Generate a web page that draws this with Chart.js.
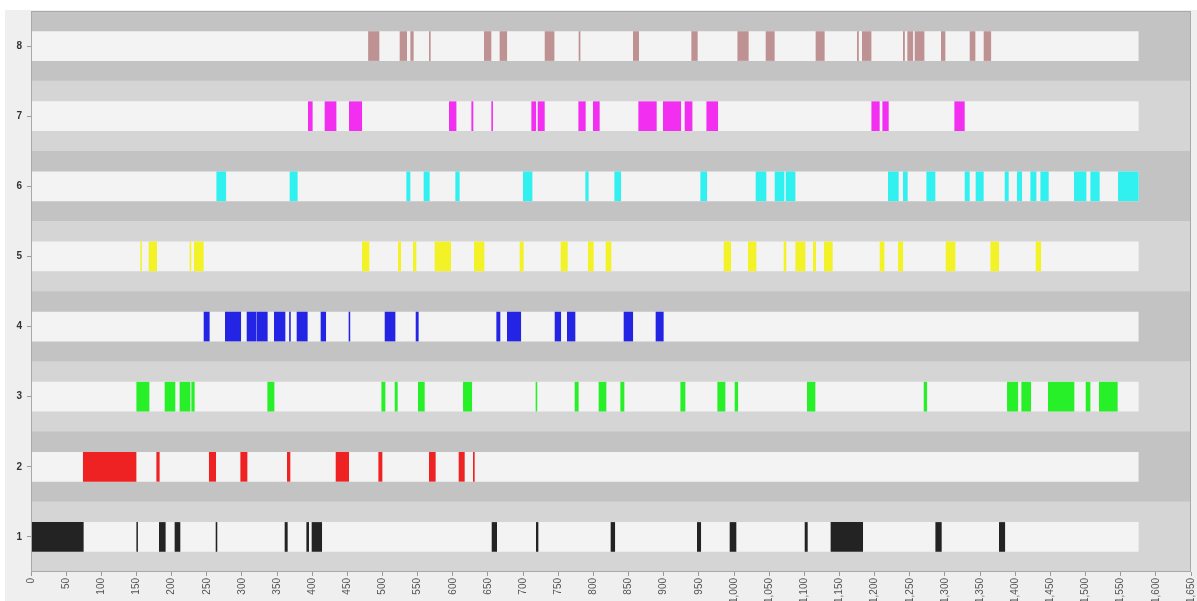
<!DOCTYPE html>
<html>
<head>
<meta charset="utf-8">
<script src="https://cdn.jsdelivr.net/npm/chart.js@4/dist/chart.umd.min.js"></script>
<style>
  html, body { margin: 0; padding: 0; background: #ffffff; }
  #wrap { width: 1197px; height: 601px; }
</style>
</head>
<body>
<div id="wrap"><canvas id="c" width="1197" height="601"></canvas></div>
<script>
// ---- data ----
const categories = ['8', '7', '6', '5', '4', '3', '2', '1'];
const xMin = 0;
const xMax = 1650;
const xStep = 50;
const trackEnd = 1575;

const track1 = [[0,74.4],[150.4,151.6],[182.5,191],[204.8,211.9],[263.2,264.5],[361.3,364.6],[392.2,395],[399.7,413.5],
  [655.8,662.4],[718.8,721.2],[825,830.3],[947.8,952.6],[994.3,1002.8],[1101,1104.3],[1137.9,1183],[1286.9,1294.9],[1377.4,1385.1]];
const track2 = [[74.4,149.4],[178.8,182.5],[253.6,262.7],[298.3,307.3],[364.6,368.4],[433.9,451.9],[494.6,499.3],
  [566.6,575.1],[608.8,616.4],[629.2,630.6]];
const track3 = [[150.4,167.9],[190.6,204.8],[211.9,226.2],[228.6,232.3],[336.7,345.7],[498.9,503.6],[517.8,521.1],
  [550.9,559.5],[615,626.9],[718.3,719.6],[773.8,778.5],[807.9,817.9],[838.8,843.5],[924.2,930.3],[976.8,987.2],
  [1001.4,1005.3],[1104.3,1115.2],[1270.3,1274.1],[1388.8,1403.6],[1409.2,1422],[1447.1,1483.6],[1500.7,1506.4],[1519.6,1545.2]];
const track4 = [[246.1,253.6],[276.4,298.3],[307.3,320.1],[321.5,336.1],[346.1,361.3],[367.7,369],[378.4,393],
  [412.5,419.2],[452.3,453.6],[503.6,517.8],[547.7,550.9],[662.4,667.1],[677.5,696.6],[745.4,753.5],[762.9,773.8],
  [843.5,855.9],[889,899.4]];
const track5 = [[156,157.2],[167.9,178.8],[226.2,227.5],[232.3,245.1],[471.3,480.8],[522.5,525.9],[543.8,547.6],
  [574.7,597],[630.6,644.4],[695.6,700.3],[753.9,762.9],[792.7,799.9],[817.9,825],[985.8,995.3],[1020.3,1031.3],
  [1071.1,1073.9],[1087.8,1101],[1112.8,1116.2],[1128.4,1139.8],[1207.7,1213.4],[1233.7,1240],[1301.6,1314.4],
  [1365.1,1376.5],[1429.6,1436.3]];
const track6 = [[264.2,277],[368.4,378.8],[534.4,539.1],[559,566.6],[604.1,609.2],[700.3,712.7],[789,792.7],
  [830.3,838.8],[952.6,961.2],[1031.3,1045.5],[1058.3,1071.1],[1074,1086.8],[1219.5,1233.7],[1240.8,1246.5],
  [1274.1,1285.9],[1328.6,1334.7],[1344.2,1354.6],[1385.5,1390.2],[1403,1409.2],[1422,1429.6],[1436.3,1447.1],
  [1484.1,1500.7],[1507.4,1519.6],[1546.7,1575]];
const track7 = [[394.5,400.1],[418.2,433.9],[452.8,470.4],[595,604.6],[626.9,628.7],[655.3,656.6],[712.2,717.9],
  [721.2,730.2],[779.1,788.5],[799.9,808.4],[864.4,889.5],[899.4,924.2],[930.3,940.3],[961.2,976.8],
  [1195.9,1206.7],[1211.5,1219.5],[1313.9,1327.6]];
const track8 = [[480,495],[524.9,534.4],[540.1,543.8],[566.6,568],[644.8,654.3],[667.1,676.7],[731.2,744],
  [779.5,781],[856.8,864.4],[939.8,947.8],[1005.3,1020.3],[1045.5,1057.3],[1116.6,1128.4],[1175.4,1177],
  [1182.5,1194.9],[1240.8,1242.5],[1247,1254.2],[1257.5,1270.3],[1294.9,1300.1],[1335.7,1342.8],[1355.6,1365.2]];

const tracks = { '1': track1, '2': track2, '3': track3, '4': track4, '5': track5, '6': track6, '7': track7, '8': track8 };
const trackColors = { '1': '#232323', '2': '#ee2222', '3': '#28f028', '4': '#2424e4', '5': '#f2f226',
  '6': '#30f0f0', '7': '#f22ef0', '8': '#be9292' };
const bandDark = '#c3c3c3';
const bandLight = '#d5d5d5';
const trackBg = '#f3f3f3';

// ---- build datasets ----
const datasets = [];
datasets.push({
  data: categories.map(() => [xMin, xMax]),
  backgroundColor: categories.map((c) => (parseInt(c, 10) % 2 === 0 ? bandDark : bandLight)),
  barPercentage: 1, categoryPercentage: 1, grouped: false, order: 3, borderWidth: 0
});
datasets.push({
  data: categories.map(() => [xMin, trackEnd]),
  backgroundColor: trackBg, barThickness: 29, grouped: false, order: 2, borderWidth: 0
});
categories.forEach((c) => {
  datasets.push({
    data: tracks[c].map((seg) => ({ y: c, x: seg })),
    backgroundColor: trackColors[c], barThickness: 29, grouped: false, order: 1, borderWidth: 0
  });
});

const bgPlugin = {
  id: 'bg',
  beforeDraw(chart) {
    const ctx = chart.ctx;
    ctx.save();
    ctx.fillStyle = '#ffffff';
    ctx.fillRect(0, 0, chart.width, chart.height);
    ctx.fillStyle = '#efefef';
    ctx.fillRect(5, 10, chart.width - 5, chart.height - 10);
    ctx.restore();
  },
  afterDraw(chart) {
    const a = chart.chartArea;
    const ctx = chart.ctx;
    ctx.save();
    ctx.strokeStyle = '#a9a9a9';
    ctx.lineWidth = 1;
    ctx.strokeRect(a.left + 0.5, a.top + 0.5, a.right - a.left - 1, a.bottom - a.top - 1);
    ctx.restore();
  }
};

new Chart(document.getElementById('c'), {
  type: 'bar',
  data: { labels: categories, datasets },
  options: {
    indexAxis: 'y',
    responsive: false,
    animation: false,
    devicePixelRatio: 1,
    layout: { padding: { top: 10, right: 0, left: 0, bottom: 0 } },
    plugins: { legend: { display: false }, tooltip: { enabled: false } },
    scales: {
      x: {
        type: 'linear', min: xMin, max: xMax,
        grid: { drawOnChartArea: false, drawTicks: true, tickLength: 4, color: '#999999' },
        border: { display: false },
        ticks: { stepSize: xStep, autoSkip: false, minRotation: 90, maxRotation: 90, padding: 2,
          color: '#555555', font: { family: 'Liberation Sans, Arial, sans-serif', size: 10 } },
        afterFit(scale) { scale.height = 29; scale.paddingRight = 6; scale.paddingLeft = 0; }
      },
      y: {
        type: 'category',
        grid: { drawOnChartArea: false, drawTicks: true, tickLength: 4, color: '#999999', offset: false },
        border: { display: false },
        ticks: { padding: 5, color: '#333333', font: { family: 'Liberation Sans, Arial, sans-serif', size: 10, weight: 'bold' } },
        afterFit(scale) { scale.width = 31; }
      }
    }
  },
  plugins: [bgPlugin]
});
</script>
</body>
</html>
